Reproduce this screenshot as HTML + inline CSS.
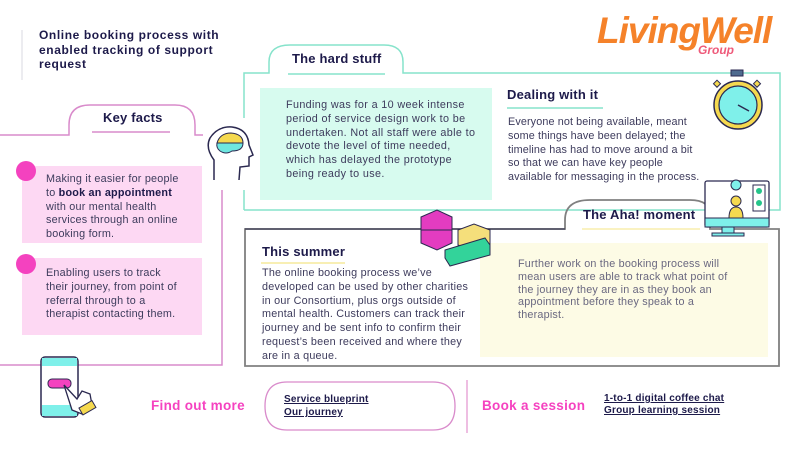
<!DOCTYPE html>
<html><head><meta charset="utf-8"><style>
*{margin:0;padding:0;box-sizing:border-box}
body{width:800px;height:450px;background:#fff;position:relative;overflow:hidden;font-family:"Liberation Sans",sans-serif;color:#1d1a4a}
.a{position:absolute;white-space:nowrap}
.t{font-size:10.8px;line-height:13.8px;color:#3d3b5c;letter-spacing:0.22px}
.h{font-weight:bold;font-size:13px;color:#1d1a4a;letter-spacing:0.2px}
.lk{font-weight:bold;font-size:10px;line-height:13px;text-decoration:underline;color:#1d1a4a;letter-spacing:0.2px}
</style></head><body>
<svg class="a" style="left:0;top:0" width="800" height="450">
<line x1="22" y1="30" x2="22" y2="80" stroke="#e6e6ea" stroke-width="1.5"/>
<path d="M244 210 L244 73 L269 73 L269 62 Q269 45 290 45 L384 45 Q403 45 403 62 L403 73 L780 73 L780 210 L244 210" fill="none" stroke="#86e3cb" stroke-width="1.5"/>
<rect x="260" y="88" width="232" height="112" fill="#d7fbef"/>
<line x1="288" y1="74" x2="385" y2="74" stroke="#86e3cb" stroke-width="1.5"/>
<line x1="507" y1="108" x2="603" y2="108" stroke="#86e3cb" stroke-width="1.5"/>
<path d="M0 135 L69 135 L69 125 Q69 105 90 105 L175 105 Q195 105 195 125 L195 135 L222 135 L222 365 L0 365" fill="none" stroke="#d98bcb" stroke-width="1.5"/>
<line x1="92" y1="132" x2="170" y2="132" stroke="#d98bcb" stroke-width="1.5"/>
<rect x="22" y="166" width="180" height="77" fill="#fdd8f3"/>
<rect x="22" y="258" width="180" height="77" fill="#fdd8f3"/>
<circle cx="26" cy="171" r="10" fill="#f442bf"/>
<circle cx="26" cy="264" r="10" fill="#f442bf"/>
<path d="M565 229 L565 220 Q565 200 590 200 L690 200 Q710 200 710 215 L710 229 L779 229 L779 366 L245 366 L245 229 Z" fill="none" stroke="#808080" stroke-width="1.8"/>
<line x1="245" y1="229" x2="565" y2="229" stroke="#3b3a55" stroke-width="1.2"/>
<rect x="480" y="243" width="288" height="114" fill="#fdfbe5"/>
<line x1="582" y1="229" x2="700" y2="229" stroke="#f6ea9c" stroke-width="1.2"/>
<line x1="261" y1="263" x2="345" y2="263" stroke="#f6ea9c" stroke-width="1.5"/>
<rect x="203" y="118" width="52" height="72" fill="#fff"/>
<path d="M214 180 L214 160 Q205 148 210 138 Q218 126 232 127 Q248 129 249 145 L253 155 L249 157 L249 166 L240 167 L239 180" fill="none" stroke="#2b2950" stroke-width="1.5"/>
<path d="M217 143 Q220 133 231 133 Q243 134 243 143 Z" fill="#f5d94f" stroke="#2b2950"/>
<path d="M217 143 L243 143 Q243 151 232 151 Q226 155 220 151 Q216 148 217 143Z" fill="#6ee7e0" stroke="#2b2950"/>
<rect x="731" y="70" width="12" height="6" fill="#4f6b8f" stroke="#2b2950"/>
<circle cx="738" cy="105" r="24" fill="#f5d94f" stroke="#2b2950" stroke-width="1.5"/>
<circle cx="738" cy="105" r="19" fill="#7ff0ea" stroke="#2b2950" stroke-width="1.2"/>
<line x1="738" y1="105" x2="749" y2="111" stroke="#2b2950" stroke-width="1.5"/>
<rect x="715" y="81" width="5" height="5" fill="#f5d94f" stroke="#2b2950" transform="rotate(45 717 83)"/>
<rect x="755" y="81" width="5" height="5" fill="#f5d94f" stroke="#2b2950" transform="rotate(45 757 83)"/>
<rect x="705" y="181" width="64" height="46" rx="2" fill="#fff" stroke="#2b2950" stroke-width="1.3"/>
<rect x="705" y="218" width="64" height="9" fill="#7ff0ea" stroke="#2b2950"/>
<rect x="722" y="227" width="12" height="7" fill="#7ff0ea" stroke="#2b2950"/>
<rect x="712" y="233" width="32" height="3" fill="#7ff0ea" stroke="#2b2950"/>
<circle cx="736" cy="185" r="5" fill="#7ff0ea" stroke="#2b2950"/>
<circle cx="736" cy="201" r="5" fill="#f5d94f" stroke="#2b2950"/>
<path d="M729 218 Q729 207 736 207 Q743 207 743 218Z" fill="#f5d94f" stroke="#2b2950"/>
<rect x="753" y="185" width="12" height="26" fill="#fff" stroke="#2b2950"/>
<circle cx="759" cy="191" r="3" fill="#25c48a"/><circle cx="759" cy="203" r="3" fill="#25c48a"/>
<polygon points="421,217 437,210 452,217 452,243 437,250 421,243" fill="#e33cc0" stroke="#2b2950"/>
<line x1="421" y1="230" x2="452" y2="230" stroke="#2b2950"/>
<polygon points="458,230 474,224 490,230 490,245 474,251 458,245" fill="#f5df7b" stroke="#2b2950"/>
<polygon points="445,250 485,238 490,245 490,255 450,266 445,258" fill="#33d39a" stroke="#2b2950"/>
<rect x="41" y="357" width="37" height="60" rx="4" fill="#fff" stroke="#2b2950" stroke-width="1.5"/>
<rect x="42" y="358" width="35" height="8" fill="#7ff0ea"/>
<rect x="42" y="405" width="35" height="11" fill="#7ff0ea"/>
<rect x="48" y="379" width="23" height="9" rx="4" fill="#f442bf" stroke="#2b2950"/>
<path d="M64 385 L77 399 L82 391 L90 394 L92 405 L82 414 L72 410Z" fill="#fff" stroke="#2b2950" stroke-width="1.3"/>
<rect x="80" y="404" width="15" height="8" fill="#f5d94f" stroke="#2b2950" transform="rotate(-30 87 408)"/>
<path d="M287 382 L433 382 Q455 382 455 406 Q455 430 433 430 L287 430 Q265 430 265 406 Q265 382 287 382Z" fill="none" stroke="#d98bcb" stroke-width="1.3"/>
<line x1="467" y1="380" x2="467" y2="433" stroke="#e8a8d8" stroke-width="1.5"/>
</svg>

<div class="a" style="left:39px;top:28px;font-weight:bold;font-size:12px;line-height:14.5px;letter-spacing:0.6px">Online booking process with<br>enabled tracking of support<br>request</div>
<div class="a" style="left:597px;top:10px;font-weight:bold;font-style:italic;font-size:37px;color:#f5822a;letter-spacing:-1px">LivingWell</div>
<div class="a" style="left:698px;top:43px;font-weight:bold;font-style:italic;font-size:12px;color:#ee5a7a">Group</div>

<div class="a h" style="left:292px;top:51px">The hard stuff</div>
<div class="a t" style="left:286px;top:99px;letter-spacing:0.36px">Funding was for a 10 week intense<br>period of service design work to be<br>undertaken. Not all staff were able to<br>devote the level of time needed,<br>which has delayed the prototype<br>being ready to use.</div>
<div class="a h" style="left:507px;top:87px">Dealing with it</div>
<div class="a t" style="left:508px;top:116px;letter-spacing:0.12px">Everyone not being available, meant<br>some things have been delayed; the<br>timeline has had to move around a bit<br>so that we can have key people<br>available for messaging in the process.</div>

<div class="a h" style="left:103px;top:110px">Key facts</div>
<div class="a t" style="left:46px;top:173px">Making it easier for people<br>to <b style="color:#1d1a4a">book an appointment</b><br>with our mental health<br>services through an online<br>booking form.</div>
<div class="a t" style="left:46px;top:267px">Enabling users to track<br>their journey, from point of<br>referral through to a<br>therapist contacting them.</div>

<div class="a h" style="left:583px;top:207px">The Aha! moment</div>
<div class="a h" style="left:262px;top:244px">This summer</div>
<div class="a t" style="left:262px;top:267px;letter-spacing:0.23px">The online booking process we’ve<br>developed can be used by other charities<br>in our Consortium, plus orgs outside of<br>mental health. Customers can track their<br>journey and be sent info to confirm their<br>request’s been received and where they<br>are in a queue.</div>
<div class="a t" style="left:518px;top:258px;color:#6a6880;line-height:12.8px;letter-spacing:0.2px">Further work on the booking process will<br>mean users are able to track what point of<br>the journey they are in as they book an<br>appointment before they speak to a<br>therapist.</div>

<div class="a" style="left:151px;top:398px;font-weight:bold;font-size:13.5px;color:#f542c0;letter-spacing:0.3px">Find out more</div>
<div class="a lk" style="left:284px;top:393px">Service blueprint<br>Our journey</div>
<div class="a" style="left:482px;top:398px;font-weight:bold;font-size:13.5px;color:#f542c0;letter-spacing:0.3px">Book a session</div>
<div class="a lk" style="left:604px;top:393px;line-height:12px">1-to-1 digital coffee chat<br>Group learning session</div>
</body></html>
